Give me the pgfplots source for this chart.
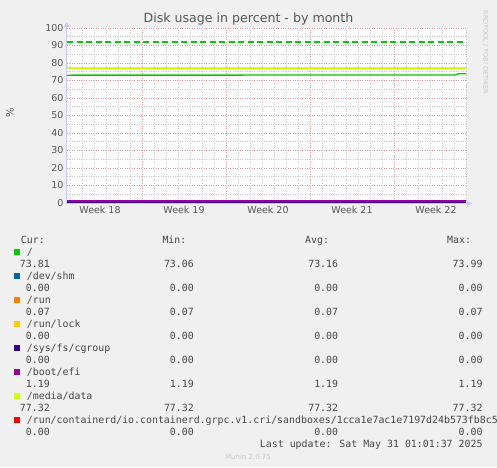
\documentclass[border=0pt]{standalone}
\usepackage{pgfplots}
\pgfplotsset{compat=1.18}
\usepackage{fontspec}
\setmainfont{DejaVu Sans}
\newfontfamily\mono{DejaVu Sans Mono}
\usetikzlibrary{arrows.meta}
\definecolor{bg}{RGB}{240,240,240}
\definecolor{txt}{RGB}{85,85,85}
\definecolor{legtxt}{RGB}{70,70,70}
\definecolor{faint}{RGB}{200,200,200}
\definecolor{majgrid}{RGB}{225,150,150}
\definecolor{mingrid}{RGB}{200,200,200}
\definecolor{axcol}{RGB}{200,200,255}
\definecolor{munA}{RGB}{0,204,0}
\definecolor{munB}{RGB}{0,102,179}
\definecolor{munC}{RGB}{255,128,0}
\definecolor{munD}{RGB}{255,204,0}
\definecolor{munE}{RGB}{51,0,153}
\definecolor{munF}{RGB}{153,0,153}
\definecolor{munG}{RGB}{204,255,0}
\definecolor{munH}{RGB}{255,0,0}
\newcommand{\legrow}[7]{%
  \pgfmathsetmacro{\yl}{-(243.5+12*#1)}%
  \pgfmathsetmacro{\yv}{-(243.5+12*(#1+1))}%
  \pgfmathsetmacro{\yb}{-(240+12*#1)}%
  \fill[#2] (14pt,\yb pt-2.8pt) rectangle (19.6pt,\yb pt+2.8pt);
  \node[anchor=base west, inner sep=0pt] at (26.7pt,\yl pt) {#3};
  \node[anchor=base east, inner sep=0pt] at (50pt,\yv pt) {#4};
  \node[anchor=base east, inner sep=0pt] at (194pt,\yv pt) {#5};
  \node[anchor=base east, inner sep=0pt] at (338.3pt,\yv pt) {#6};
  \node[anchor=base east, inner sep=0pt] at (482.7pt,\yv pt) {#7};
}
\begin{document}
\begin{tikzpicture}
\path[use as bounding box, fill=bg] (0,0) rectangle (497pt,-467pt);
\node[txt, font=\fontsize{12.6}{14}\selectfont] at (248.5pt,-19pt) {Disk usage in percent - by month};
\node[txt, rotate=90, font=\fontsize{10}{12}\selectfont] at (10pt,-113pt) {\%};
\node[faint, rotate=-90, font=\fontsize{6.5}{8}\selectfont] at (485.5pt,-52.5pt) {RRDTOOL / TOBI OETIKER};
\begin{axis}[
  scale only axis, width=399pt, height=175pt,
  at={(67pt,-203pt)}, anchor=south west,
  xmin=0, xmax=33.25, ymin=0, ymax=100,
  axis background/.style={fill=white},
  axis line style={draw=none},
  xtick={2.75,9.75,16.75,23.75,30.75},
  xticklabels={Week 18,Week 19,Week 20,Week 21,Week 22},
  extra x ticks={6.25,13.25,20.25,27.25},
  extra x tick labels={},
  extra x tick style={grid=major},
  minor xtick={0.25,1.25,...,33.25},
  ytick={0,10,...,100},
  minor ytick={5,15,...,95},
  ymajorgrids, yminorgrids, xminorgrids,
  major grid style={majgrid, dotted, line width=0.6pt},
  minor grid style={mingrid, dotted, line width=0.6pt},
  tick style={draw=none},
  tick label style={txt, font=\fontsize{9.5}{11}\selectfont},
  /pgf/number format/assume math mode=true,
  clip=false,
]
\addplot[color=munA, dash pattern=on 6pt off 3.5pt, line width=1.3pt] coordinates {(0,92) (33.25,92)};
\addplot[color=munG, line width=1.8pt] coordinates {(0,77.32) (33.25,77.32)};
\addplot[color=munA, line width=1.3pt] coordinates {(0,73.06) (10,73.08) (20,73.1) (32.4,73.12) (32.55,73.8) (33.25,73.85)};
\addplot[color=munB, line width=1.2pt] coordinates {(0,0) (33.25,0)};
\addplot[color=munC, line width=1.2pt] coordinates {(0,0.07) (33.25,0.07)};
\addplot[color=munD, line width=1.2pt] coordinates {(0,0) (33.25,0)};
\addplot[color=munH, line width=1.2pt] coordinates {(32.5,0) (33.25,0)};
\addplot[color=munE, line width=1.2pt] coordinates {(0,0) (33.25,0)};
\addplot[color=munF, line width=1.3pt] coordinates {(0,1.19) (33.25,1.19)};
\end{axis}
\draw[axcol, line width=0.8pt, -{Triangle[length=5pt,width=5pt]}] (66.7pt,-203.5pt) -- (66.7pt,-22pt);
\draw[axcol, line width=0.8pt, -{Triangle[length=5pt,width=5pt]}] (66.7pt,-203.5pt) -- (472pt,-203.5pt);
\begin{scope}[legtxt, font=\mono\fontsize{9.9}{12}\selectfont]
\node[anchor=base west, inner sep=0pt] at (20.7pt,-243.5pt) {Cur:};
\node[anchor=base west, inner sep=0pt] at (162.3pt,-243.5pt) {Min:};
\node[anchor=base west, inner sep=0pt] at (305pt,-243.5pt) {Avg:};
\node[anchor=base west, inner sep=0pt] at (447pt,-243.5pt) {Max:};
\legrow{1}{munA}{/}{73.81}{73.06}{73.16}{73.99}
\legrow{3}{munB}{/dev/shm}{0.00}{0.00}{0.00}{0.00}
\legrow{5}{munC}{/run}{0.07}{0.07}{0.07}{0.07}
\legrow{7}{munD}{/run/lock}{0.00}{0.00}{0.00}{0.00}
\legrow{9}{munE}{/sys/fs/cgroup}{0.00}{0.00}{0.00}{0.00}
\legrow{11}{munF}{/boot/efi}{1.19}{1.19}{1.19}{1.19}
\legrow{13}{munG}{/media/data}{77.32}{77.32}{77.32}{77.32}
\legrow{15}{munH}{/run/containerd/io.containerd.grpc.v1.cri/sandboxes/1cca1e7ac1e7197d24b573fb8c5}{0.00}{0.00}{0.00}{0.00}
\node[anchor=base east, inner sep=0pt] at (482.7pt,-447.5pt) {Last update: Sat May 31 01:01:37 2025};
\end{scope}
\node[faint, font=\fontsize{7}{8}\selectfont] at (248pt,-457pt) {Munin 2.0.75};
\end{tikzpicture}
\end{document}
